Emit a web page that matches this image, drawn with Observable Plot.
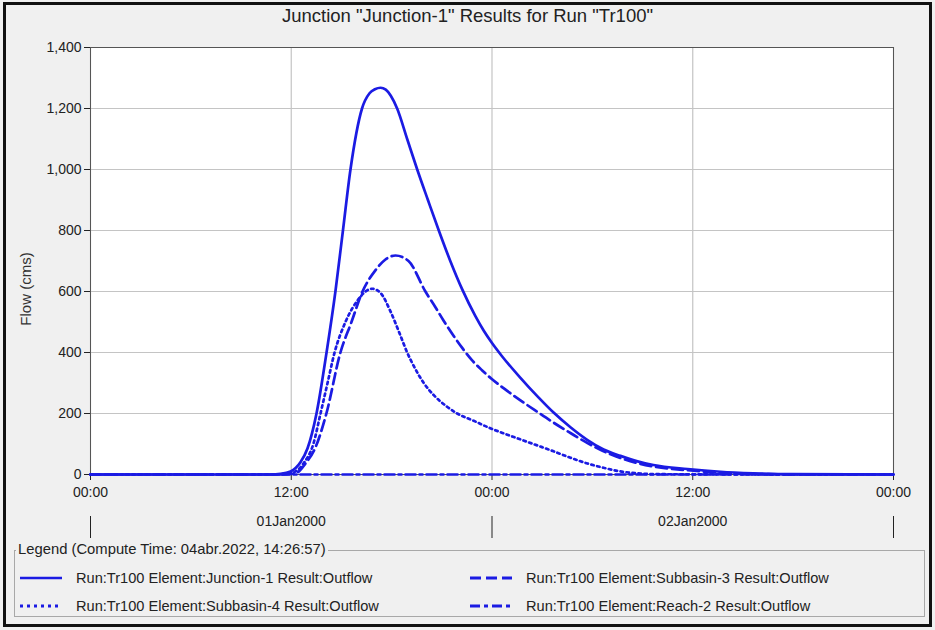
<!DOCTYPE html>
<html>
<head>
<meta charset="utf-8">
<script src="https://cdn.jsdelivr.net/npm/d3@7"></script>
<script src="https://cdn.jsdelivr.net/npm/@observablehq/plot@0.6"></script>
<style>
  body { margin: 0; background: #ffffff; font-family: "Liberation Sans", Arial, sans-serif; }
  #page { position: absolute; left: 0; top: 0; width: 935px; height: 630px; background: #f0f0f0; overflow: hidden; }
  #border { position: absolute; left: 3px; top: 2px; width: 929px; height: 625px; box-sizing: border-box; border: 3px solid #111; pointer-events: none; }
  #title { position: absolute; left: 0; top: 5px; width: 935px; text-align: center; font-size: 18.5px; color: #222; }
  #ylabel { position: absolute; left: 25px; top: 289px; transform: translate(-50%, -50%) rotate(-90deg); font-size: 15px; color: #333; white-space: nowrap; }
  #chart { position: absolute; left: 0; top: 30px; }
  #legend { position: absolute; left: 14px; top: 550px; width: 911px; height: 67px; box-sizing: border-box; border: 1px solid #a8a8a8; }
  #legend-title { position: absolute; left: 16px; top: 541px; padding: 0 2px; background: #f0f0f0; font-size: 14.8px; color: #222; }
  .entry { position: absolute; font-size: 14.6px; color: #222; white-space: nowrap; display: flex; align-items: center; }
  .entry svg { margin-right: 12px; }
</style>
</head>
<body>
<div id="page">
  <div id="title"></div>
  <div id="ylabel">Flow (cms)</div>
  <div id="chart"></div>
  <div id="legend"></div>
  <div id="legend-title"></div>
  <div id="entries"></div>
  <div id="border"></div>
</div>
<script>
// ---- data (hours after 01Jan2000 00:00, flow in cms) ----
const titleText = 'Junction "Junction-1" Results for Run "Tr100"';
const legendTitle = "Legend (Compute Time: 04abr.2022, 14:26:57)";
const seriesNames = [
  "Run:Tr100 Element:Junction-1 Result:Outflow",
  "Run:Tr100 Element:Subbasin-3 Result:Outflow",
  "Run:Tr100 Element:Subbasin-4 Result:Outflow",
  "Run:Tr100 Element:Reach-2 Result:Outflow"
];

const junctionHours = [0, 10.76, 11.36, 11.96, 12.55, 12.97, 13.51, 14.11, 14.64, 15.09, 15.54, 16.23, 16.68, 17.00, 17.34, 17.65, 17.95, 18.33, 18.93, 19.53, 20.17, 20.82, 21.50, 22.22, 23.00, 23.50, 24.00, 24.61, 25.70, 26.72, 27.68, 28.69, 29.71, 30.67, 31.68, 32.70, 33.65, 35.69, 37.66, 39.63, 41.84, 48];
const junctionFlow  = [0, 0, 2, 10, 40, 85, 200, 400, 600, 800, 1000, 1200, 1250, 1263, 1268, 1262, 1242, 1200, 1100, 1000, 900, 800, 701, 607, 520, 472, 431, 387, 317, 256, 203, 155, 113, 82, 61, 43, 31, 18, 9, 4, 1, 0];

const subbasin3Hours = [0, 11.36, 11.96, 12.37, 12.85, 13.45, 14.10, 14.94, 15.60, 16.26, 17.04, 17.63, 18.23, 19.01, 20.02, 20.60, 21.10, 21.70, 22.22, 22.80, 23.40, 23.97, 24.69, 25.70, 26.72, 27.68, 28.69, 29.71, 30.67, 31.68, 32.70, 33.65, 35.69, 37.66, 39.63, 41.84, 48];
const subbasin3Flow  = [0, 0, 2, 7, 36, 89, 200, 400, 500, 600, 670, 705, 718, 700, 600, 550, 505, 455, 415, 375, 342, 314, 283, 243, 205, 170, 136, 103, 76, 54, 37, 26, 14, 6, 2, 0.5, 0];

const subbasin4Hours = [0, 10.76, 11.36, 11.96, 12.73, 13.33, 13.75, 14.17, 14.59, 15.24, 16.02, 16.44, 16.84, 17.34, 17.93, 18.53, 18.93, 19.33, 19.92, 20.52, 21.32, 21.92, 22.91, 23.97, 24.69, 25.70, 26.72, 27.68, 28.69, 29.71, 30.67, 31.68, 32.70, 33.77, 48];
const subbasin4Flow  = [0, 0, 1, 4, 36, 102, 200, 300, 400, 500, 575, 600, 609, 595, 535, 455, 400, 355, 300, 260, 222, 200, 176, 150, 135, 115, 95, 76, 55, 36, 22, 10, 4, 1, 0];

const reach2Hours = [0, 12, 24, 36, 48];
const reach2Flow  = [0, 0, 0, 0, 0];

const yTicks = [0, 200, 400, 600, 800, 1000, 1200, 1400];
const timeTickHours = [0, 12, 24, 36, 48];
const dayTickHours = [0, 24, 48];
const dateLabelHours = [12, 36];

// ---- build ----
const t0 = Date.UTC(2000, 0, 1);
const toDate = h => new Date(t0 + h * 3600e3);
const rows = (hours, flows, series) => hours.map((h, i) => ({time: toDate(h), flow: flows[i], series}));

const blue = "#1b1be3";
const dashes = [null, "11,5", "2.5,3.5", "10,4,3,4"];
const legendDashes = [null, "11,5", "3,4", "10,4,4,4"];
const data = [
  rows(reach2Hours, reach2Flow, seriesNames[3]),
  rows(subbasin4Hours, subbasin4Flow, seriesNames[2]),
  rows(subbasin3Hours, subbasin3Flow, seriesNames[1]),
  rows(junctionHours, junctionFlow, seriesNames[0])
];
const dataDash = [dashes[3], dashes[2], dashes[1], dashes[0]];

document.getElementById("title").textContent = titleText;
document.getElementById("legend-title").textContent = legendTitle;

const chart = Plot.plot({
  width: 935,
  height: 510,
  marginLeft: 90,
  marginRight: 42,
  marginTop: 17,
  marginBottom: 66,
  style: {background: "transparent", fontFamily: "'Liberation Sans', Arial, sans-serif", fontSize: "14px", color: "#222", overflow: "visible"},
  x: {type: "utc", domain: [toDate(0), toDate(48)]},
  y: {domain: [0, 1400]},
  marks: [
    Plot.frame({fill: "white", stroke: null}),
    Plot.gridX(timeTickHours.map(toDate), {stroke: "#c4c4c4", strokeOpacity: 1, strokeWidth: 1.2}),
    Plot.gridY(yTicks, {stroke: "#c4c4c4", strokeOpacity: 1, strokeWidth: 1.2}),
    Plot.frame({stroke: "#555", strokeWidth: 1}),
    Plot.axisY(yTicks, {tickSize: 6, tickPadding: 3, fontSize: 14, label: null, tickFormat: d3.format(",")}),
    Plot.axisX(timeTickHours.map(toDate), {tickSize: 6, tickPadding: 7, fontSize: 14, label: null, tickFormat: d3.utcFormat("%H:%M")}),
    Plot.axisX(dayTickHours.map(toDate), {tickSize: 22, tickFormat: () => "", label: null, dy: 42}),
    Plot.axisX(dateLabelHours.map(toDate), {tickSize: 0, tickPadding: 42, fontSize: 14, label: null, tickFormat: d3.utcFormat("%d%b%Y")}),
    ...data.map((d, i) => Plot.line(d, {x: "time", y: "flow", stroke: blue, strokeWidth: 2.7, strokeDasharray: dataDash[i], curve: "monotone-x"}))
  ]
});
document.getElementById("chart").appendChild(chart);

// legend entries: row-major, two columns
const pos = [
  {left: 20, top: 569},
  {left: 470, top: 569},
  {left: 20, top: 597},
  {left: 470, top: 597}
];
const legendOrder = [0, 1, 2, 3];
const entries = document.getElementById("entries");
legendOrder.forEach((si, k) => {
  const p = pos[k];
  const div = document.createElement("div");
  div.className = "entry";
  div.style.left = p.left + "px";
  div.style.top = p.top + "px";
  const dash = legendDashes[si] ? ` stroke-dasharray="${legendDashes[si]}"` : "";
  div.innerHTML = `<svg width="44" height="18"><line x1="0" y1="9" x2="42" y2="9" stroke="${blue}" stroke-width="${si === 0 ? 2.5 : 3}"${dash}></line></svg><span></span>`;
  div.querySelector("span").textContent = seriesNames[si];
  entries.appendChild(div);
});
</script>
</body>
</html>
